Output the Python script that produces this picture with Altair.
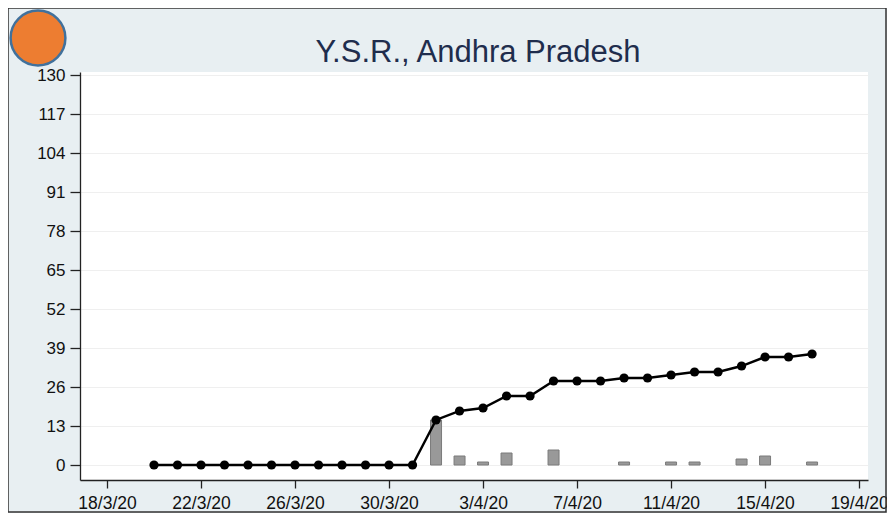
import altair as alt
import pandas as pd

# ---- data ----
dates = ["2020-03-20", "2020-03-21", "2020-03-22", "2020-03-23", "2020-03-24",
         "2020-03-25", "2020-03-26", "2020-03-27", "2020-03-28", "2020-03-29",
         "2020-03-30", "2020-03-31", "2020-04-01", "2020-04-02", "2020-04-03",
         "2020-04-04", "2020-04-05", "2020-04-06", "2020-04-07", "2020-04-08",
         "2020-04-09", "2020-04-10", "2020-04-11", "2020-04-12", "2020-04-13",
         "2020-04-14", "2020-04-15", "2020-04-16", "2020-04-17"]
cumulative = [0, 0, 0, 0, 0, 0, 0, 0, 0, 0, 0, 0,
              15, 18, 19, 23, 23, 28, 28, 28, 29, 29, 30, 31, 31, 33, 36, 36, 37]
daily = [0, 0, 0, 0, 0, 0, 0, 0, 0, 0, 0, 0,
         15, 3, 1, 4, 0, 5, 0, 0, 1, 0, 1, 1, 0, 2, 3, 0, 1]
x_tick_labels = ["18/3/20", "22/3/20", "26/3/20", "30/3/20", "3/4/20",
                 "7/4/20", "11/4/20", "15/4/20", "19/4/20"]
y_ticks = [0, 13, 26, 39, 52, 65, 78, 91, 104, 117, 130]
title_text = "Y.S.R., Andhra Pradesh"

start = pd.Timestamp("2020-03-18")
df = pd.DataFrame({
    "date": dates,
    "day": [(pd.Timestamp(d) - start).days for d in dates],
    "cum": cumulative,
    "new": daily,
})

W, H = 788, 408
x_ticks = [4 * i for i in range(len(x_tick_labels))]
label_expr = "[" + ",".join(f"'{s}'" for s in x_tick_labels) + "][round(datum.value/4)]"

x_scale = alt.Scale(domain=[-1.149, 32.38], nice=False, zero=False, padding=0)
y_scale = alt.Scale(domain=[-5, 131], nice=False, zero=False, padding=0)

FONT = "Liberation Sans"
x_axis = alt.Axis(values=x_ticks, labelExpr=label_expr, title=None, grid=False,
                  tickSize=8, labelPadding=6, labelFontSize=17.5, labelColor="#111",
                  domainColor="#222", tickColor="#222", labelFont=FONT,
                  domainWidth=1.3, tickWidth=1.3)
y_axis = alt.Axis(values=y_ticks, title=None, grid=True, gridColor="#efefef",
                  tickSize=10, labelPadding=5, labelFontSize=17, labelColor="#111",
                  domainColor="#222", tickColor="#222", labelFont=FONT,
                  domainWidth=1.3, tickWidth=1.3)

base = alt.Chart(df)

bars = base.transform_filter("datum.new > 0").mark_bar(
    width=11, color="#999999", stroke="#7a7a7a", strokeWidth=1
).encode(
    x=alt.X("day:Q", scale=x_scale, axis=x_axis),
    y=alt.Y("new:Q", scale=y_scale, axis=y_axis),
)

line = base.mark_line(color="black", strokeWidth=2.4).encode(
    x=alt.X("day:Q", scale=x_scale),
    y=alt.Y("cum:Q", scale=y_scale),
)

points = base.mark_circle(color="black", size=85, opacity=1).encode(
    x=alt.X("day:Q", scale=x_scale),
    y=alt.Y("cum:Q", scale=y_scale),
)

one = pd.DataFrame({"k": [0]})

title = alt.Chart(one).mark_text(
    text=title_text, fontSize=31, font=FONT, color="#1f2d4d",
    align="center", baseline="alphabetic"
).encode(x=alt.value(398), y=alt.value(-10))

# decorative frame and orange badge (outside the plot area)
frame = alt.Chart(one).mark_rect(
    fill=None, stroke="#333333", strokeWidth=1.5
).encode(
    x=alt.value(-72), x2=alt.value(W + 18), y=alt.value(-64), y2=alt.value(H + 32)
)
badge = alt.Chart(one).mark_point(
    filled=True, shape="circle", size=3000, fill="#ed7d31", stroke="#41719c",
    strokeWidth=2.5, opacity=1
).encode(x=alt.value(-42), y=alt.value(-34))

chart = alt.layer(bars, line, points, title, frame, badge).properties(
    width=W, height=H,
    autosize=alt.AutoSizeParams(type="none"),
    padding={"left": 72, "top": 64, "right": 19, "bottom": 33},
).configure(background="#e8eff2").configure_view(fill="white", stroke=None)

chart.save("out.html", embed_options={"renderer": "svg", "actions": False})
